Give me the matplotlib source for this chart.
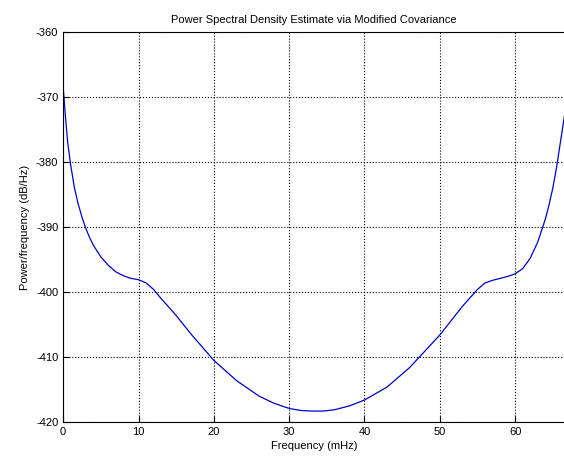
import matplotlib
matplotlib.use('Agg')
import matplotlib.pyplot as plt
import numpy as np

# values
freq_mhz = [0, 0.3, 0.6, 1, 1.5, 2, 2.5, 3, 3.5, 4, 5, 6, 7, 8, 9, 10, 11, 12, 13,
            15, 17, 20, 23, 26, 28, 30, 31.5, 33, 34.5, 36, 38, 40, 43, 46, 50,
            53, 55, 56, 57, 58, 59, 60, 61, 62, 63, 64, 64.5, 65, 65.5, 66,
            66.4, 66.67]
psd_db = [-368.5, -373, -377, -380.5, -384, -386.5, -388.5, -390.2, -391.6, -392.8,
          -394.6, -395.9, -396.9, -397.5, -397.9, -398.1, -398.6, -399.6, -401,
          -403.6, -406.5, -410.5, -413.6, -416, -417.1, -417.9, -418.2, -418.3,
          -418.3, -418.1, -417.5, -416.6, -414.6, -411.6, -406.6, -402.2,
          -399.6, -398.6, -398.2, -397.9, -397.6, -397.2, -396.4, -394.8,
          -392.3, -388.8, -386.6, -384, -380.8, -377, -374, -372]

plt.rcParams['font.family'] = ['Liberation Sans', 'DejaVu Sans']
plt.rcParams['axes.unicode_minus'] = False

fig = plt.figure(figsize=(5.64, 4.68), dpi=100)
ax = fig.add_axes([0.112, 0.098, 0.8905, 0.834])

ax.plot(freq_mhz, psd_db, color='#0000cc', linewidth=0.9)

ax.set_xlim(0, 66.67)
ax.set_ylim(-420, -360)
ax.set_xticks(np.arange(0, 61, 10))
ax.set_yticks(np.arange(-420, -359, 10))
ax.grid(True, linestyle=':', color='black', linewidth=0.8)
ax.tick_params(direction='in', labelsize=8, length=4, width=0.8)
for s in ax.spines.values():
    s.set_linewidth(0.8)

ax.set_title('Power Spectral Density Estimate via Modified Covariance', fontsize=8, pad=6)
ax.set_xlabel('Frequency (mHz)', fontsize=8, labelpad=3)
ax.set_ylabel('Power/frequency (dB/Hz)', fontsize=8, labelpad=4)

fig.savefig('out.png', dpi=100)
